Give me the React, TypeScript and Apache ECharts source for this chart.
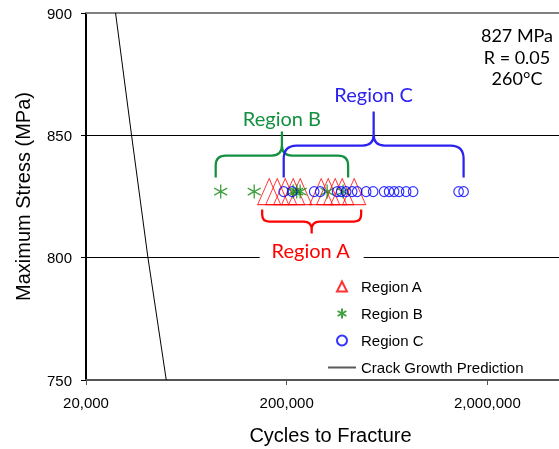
import React, { useEffect, useRef } from 'react';
import * as echarts from 'echarts';

// ---- data (cycles to fracture, stress in MPa) ----
const X_MIN_CYCLES = 20000;
const X_MAX_CYCLES = 4550000;
const yMinStress = 750;
const yMaxStress = 900;
const yStep = 50;
const testStress = 827;

const regionACycles = [163600, 179400, 196600, 215400, 233500, 297000, 321900, 348800, 378000, 433800];
const regionBCycles = [93800, 137800, 215400, 224300, 233500, 318200, 382200];
const regionCCycles = [
  193300, 213000, 274200, 293700, 356800, 373600, 395800, 424000, 448900, 497700,
  539400, 611800, 647700, 686000, 726500, 787400, 853100, 1437800, 1522600,
];
const crackCycles = [28080, 33740, 40710, 50230];
const crackStress = [900, 850, 800, 750];

const infoLines = ['827 MPa', 'R = 0.05', '260°C'];

// ---- helpers ----
const toX = (c: number) => Math.log10(c / X_MIN_CYCLES);
const SANS = 'Liberation Sans';
const CAL = 'Lato';
const RED = '#FF0000';
const GREEN_M = '#138A13';
const GREEN_T = '#149041';
const BLUE_M = '#0000FF';
const BLUE_T = '#2B22F0';

const ASTERISK = 'path://M10 0 L10 20 M1.34 5 L18.66 15 M1.34 15 L18.66 5';
const TRIANGLE = 'path://M10 0 L20 20 L0 20 Z';
const CIRCLE = 'path://M0 10 A10 10 0 1 1 20 10 A10 10 0 1 1 0 10 Z';

function bracePath(x1: number, x2: number, yEnd: number, yBar: number, yTip: number, r: number, rt: number) {
  const xt = (x1 + x2) / 2;
  const s = Math.sign(yBar - yEnd);
  return [
    `M${x1} ${yEnd}`,
    `L${x1} ${yBar - s * r}`,
    `Q${x1} ${yBar} ${x1 + r} ${yBar}`,
    `L${xt - rt} ${yBar}`,
    `Q${xt} ${yBar} ${xt} ${yBar + s * rt}`,
    `L${xt} ${yTip}`,
    `M${xt} ${yBar + s * rt}`,
    `Q${xt} ${yBar} ${xt + rt} ${yBar}`,
    `L${x2 - r} ${yBar}`,
    `Q${x2} ${yBar} ${x2} ${yBar - s * r}`,
    `L${x2} ${yEnd}`,
  ].join(' ');
}

export default function App() {
  const ref = useRef<HTMLDivElement>(null);

  useEffect(() => {
    const chart = echarts.init(ref.current!, null, { renderer: 'svg' });
    const xMax = toX(X_MAX_CYCLES);
    const xLabel = (v: number) => {
      const k = Math.round(v);
      if (Math.abs(v - k) > 1e-6) return '';
      return Math.round(X_MIN_CYCLES * Math.pow(10, k)).toLocaleString('en-US');
    };

    const option: any = {
      animation: false,
      textStyle: { fontFamily: SANS },
      grid: { left: 86, right: 0, top: 13, bottom: 69, outerBoundsMode: 'none' },
      xAxis: [
        {
          type: 'value',
          min: 0,
          max: xMax,
          interval: 1,
          name: 'Cycles to Fracture',
          nameLocation: 'middle',
          nameGap: 45,
          nameTextStyle: { fontFamily: SANS, fontSize: 20, color: '#000', padding: [0, 0, 0, 16] },
          axisLine: { show: true, lineStyle: { color: '#555', width: 2 } },
          axisTick: { show: true, length: 5, inside: false, lineStyle: { color: '#555', width: 1 } },
          axisLabel: { formatter: xLabel, margin: 15, fontFamily: SANS, fontSize: 15, color: '#000' },
          splitLine: { show: false },
        },
        {
          type: 'value',
          position: 'top',
          min: 0,
          max: xMax,
          interval: 1,
          axisLine: { show: true, lineStyle: { color: '#808080', width: 2 } },
          axisTick: { show: false },
          axisLabel: { show: false },
          splitLine: { show: false },
        },
      ],
      yAxis: {
        type: 'value',
        min: yMinStress,
        max: yMaxStress,
        interval: yStep,
        name: 'Maximum Stress (MPa)',
        nameLocation: 'middle',
        nameGap: 53,
        nameTextStyle: { fontFamily: SANS, fontSize: 20, color: '#000' },
        axisLine: { show: true, lineStyle: { color: '#000', width: 2 } },
        axisTick: { show: true, length: 5, lineStyle: { color: '#000', width: 1 } },
        axisLabel: { margin: 14, fontFamily: SANS, fontSize: 15, color: '#000' },
        splitLine: { show: true, showMinLine: false, showMaxLine: false, lineStyle: { color: '#000', width: 1 } },
      },
      legend: {
        orient: 'vertical',
        left: 327,
        top: 279,
        padding: 0,
        itemWidth: 28,
        itemHeight: 10,
        itemGap: 12,
        selectedMode: false,
        symbolKeepAspect: true,
        textStyle: { fontFamily: SANS, fontSize: 15, color: '#000' },
        data: [
          'Region A',
          'Region B',
          'Region C',
          { name: 'Crack Growth Prediction', itemStyle: { opacity: 0 }, lineStyle: { color: '#5a5a5a' } },
        ],
      },
      series: [
        {
          name: 'Region A',
          type: 'scatter',
          symbol: TRIANGLE,
          symbolSize: [23, 26],
          itemStyle: { color: 'rgba(0,0,0,0)', borderColor: RED, borderWidth: 1 },
          data: regionACycles.map((c) => [toX(c), testStress]),
          z: 3,
        },
        {
          name: 'Region B',
          type: 'scatter',
          symbol: ASTERISK,
          symbolSize: [13, 14],
          itemStyle: { color: 'rgba(0,0,0,0)', borderColor: GREEN_M, borderWidth: 1.4 },
          data: regionBCycles.map((c) => [toX(c), testStress]),
          z: 4,
        },
        {
          name: 'Region C',
          type: 'scatter',
          symbol: CIRCLE,
          symbolSize: [9.5, 10],
          itemStyle: { color: 'rgba(0,0,0,0)', borderColor: BLUE_M, borderWidth: 1.2 },
          data: regionCCycles.map((c) => [toX(c), testStress]),
          z: 5,
        },
        {
          name: 'Crack Growth Prediction',
          type: 'line',
          symbol: 'none',
          lineStyle: { color: '#000', width: 1 },
          itemStyle: { color: 'rgba(0,0,0,0)', borderWidth: 0 },
          data: crackCycles.map((c, i) => [toX(c), crackStress[i]]),
          clip: true,
          z: 2,
        },
      ],
    };
    chart.setOption(option);

    const px = (c: number, s: number) => chart.convertToPixel({ seriesIndex: 0 }, [toX(c), s]) as number[];
    const my = px(X_MIN_CYCLES, testStress)[1];
    const ext = (arr: number[], pad: number) => [px(Math.min(...arr), testStress)[0] - pad, px(Math.max(...arr), testStress)[0] + pad];

    const [bx1, bx2] = ext(regionBCycles, 5);
    const [cx1, cx2] = ext(regionCCycles, 0);
    const [ax1, ax2] = ext(regionACycles, 7);

    const bTip = my - 60;
    const cTip = my - 80;
    const aTip = my + 42;

    echarts.graphic.registerShape('braceB', echarts.graphic.extendPath(bracePath(bx1, bx2, my - 14, my - 36, bTip, 10, 10), {}));
    echarts.graphic.registerShape('braceC', echarts.graphic.extendPath(bracePath(cx1, cx2, my - 14, my - 46, cTip, 13, 11), {}));
    echarts.graphic.registerShape('braceA', echarts.graphic.extendPath(bracePath(ax1, ax2, my + 18, my + 30, aTip, 7, 8), {}));

    const braceStyle = (stroke: string) => ({ stroke, fill: 'none', lineWidth: 2.25 });
    const label = (text: string, x: number, y: number, fill: string) => ({
      type: 'text',
      x,
      y,
      z: 20,
      style: { text, fill, fontFamily: CAL, fontSize: 20, align: 'center', verticalAlign: 'middle' },
    });
    const aMid = (ax1 + ax2) / 2;

    chart.setOption({
      graphic: [
        { type: 'braceB', z: 15, style: braceStyle(GREEN_T) },
        { type: 'braceC', z: 15, style: braceStyle(BLUE_T) },
        { type: 'braceA', z: 15, style: braceStyle(RED) },
        label('Region B', (bx1 + bx2) / 2, bTip - 14, GREEN_T),
        label('Region C', (cx1 + cx2) / 2, cTip - 18, BLUE_T),
        { type: 'rect', z: 18, shape: { x: aMid - 52, y: aTip + 4, width: 104, height: 22 }, style: { fill: '#fff' } },
        label('Region A', aMid - 1, aTip + 16, RED),
        {
          type: 'text',
          x: 517,
          y: 56.5,
          z: 20,
          style: {
            text: infoLines.join('\n'),
            fill: '#000',
            fontFamily: CAL,
            fontSize: 18,
            lineHeight: 21.5,
            align: 'center',
            verticalAlign: 'middle',
          },
        },
      ],
    });

    return () => chart.dispose();
  }, []);

  return <div ref={ref} style={{ position: 'fixed', left: 0, top: 0, width: 559, height: 449 }} />;
}
